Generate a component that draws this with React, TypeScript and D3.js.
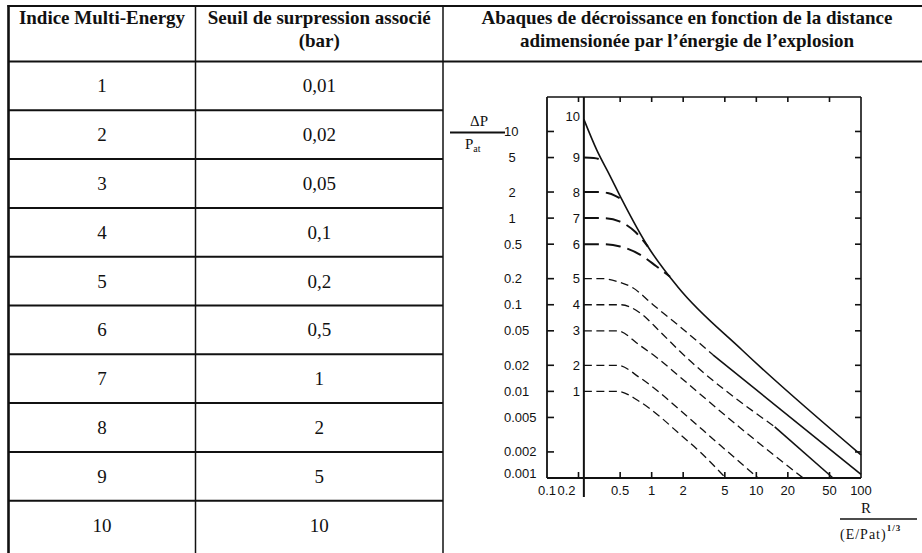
import React from "react";
import * as d3 from "d3";

// ---------- table data ----------
const headerCol1 = ["Indice Multi-Energy"];
const headerCol2 = ["Seuil de surpression associé", "(bar)"];
const headerCol3 = [
  "Abaques de décroissance en fonction de la distance",
  "adimensionée par l’énergie de l’explosion",
];
const indices = ["1", "2", "3", "4", "5", "6", "7", "8", "9", "10"];
const seuils = ["0,01", "0,02", "0,05", "0,1", "0,2", "0,5", "1", "2", "5", "10"];

// ---------- chart data ----------
const xTicks = [0.1, 0.2, 0.5, 1, 2, 5, 10, 20, 50, 100];
const xTickLabels = ["0.1", "0.2", "0.5", "1", "2", "5", "10", "20", "50", "100"];
const yTicks = [10, 5, 2, 1, 0.5, 0.2, 0.1, 0.05, 0.02, 0.01, 0.005, 0.002, 0.001];
const yTickLabels = ["10", "5", "2", "1", "0.5", "0.2", "0.1", "0.05", "0.02", "0.01", "0.005", "0.002", "0.001"];
const chargeRadius = 0.225;
const curveNames = ["1", "2", "3", "4", "5", "6", "7", "8", "9", "10"];

const curve1 = [[0.225, 0.01], [0.47, 0.01], [0.77, 0.0076], [1.2, 0.0051], [1.86, 0.0032], [2.9, 0.002], [5.1, 0.001]];
const curve2 = [[0.225, 0.02], [0.47, 0.02], [0.77, 0.0144], [1.2, 0.0096], [1.86, 0.0061], [4.5, 0.0024], [10.4, 0.001]];
const curve3 = [[0.225, 0.05], [0.47, 0.05], [0.77, 0.034], [1.2, 0.023], [1.86, 0.0147], [7, 0.0038], [28, 0.001]];
const curve4 = [[0.225, 0.1], [0.51, 0.1], [0.77, 0.081], [1.2, 0.049], [1.86, 0.029], [15, 0.0039]];
const curve4Tail = [[15, 0.0039], [54, 0.001]];
const curve5 = [[0.225, 0.2], [0.34, 0.2], [0.48, 0.184], [0.66, 0.157], [1.03, 0.1], [1.86, 0.056], [3.85, 0.0264]];
const curve5Tail = [[3.85, 0.0264], [100, 0.0011]];
const curve6 = [[0.225, 0.5], [0.33, 0.5], [0.5, 0.47], [0.8, 0.37], [1.1, 0.28], [1.5, 0.21]];
const curve7 = [[0.225, 1], [0.35, 1], [0.5, 0.91], [0.7, 0.69], [0.92, 0.47]];
const curve8 = [[0.225, 2], [0.31, 2], [0.38, 1.95], [0.45, 1.81], [0.52, 1.63]];
const curve9 = [[0.225, 5], [0.28, 4.95], [0.32, 4.75], [0.346, 4.47]];
const curve10 = [[0.225, 13.8], [0.3, 6.05], [0.4, 3.08], [0.52, 1.63], [0.92, 0.47], [1.78, 0.16], [7.3, 0.03], [100, 0.00185]];

const shortDashCurves = [curve1, curve2, curve3, curve4, curve5];
const longDashCurves = [curve6, curve7, curve8, curve9];
const solidCurves = [curve10, curve4Tail, curve5Tail];
const allCurves = [curve1, curve2, curve3, curve4, curve5, curve6, curve7, curve8, curve9, curve10];

const INK = "#111";
const SERIF = "'Liberation Serif', 'Times New Roman', serif";
const SANS = "'Liberation Sans', Arial, sans-serif";

export default function App() {
  const W = 922, H = 553;
  // table geometry
  const tTop = 6, tLeft = 8.5, c1 = 195.5, c2 = 443, hdrBottom = 61.5, rowH = 48.8;

  // chart scales
  const x = d3.scaleLog().domain([0.1, 100]).range([547, 861]);
  const y = d3.scaleLog().domain([0.001, 25]).range([478, 97]);
  const [x0, x1] = x.range();
  const [y0, y1] = y.range();
  const line = d3
    .line<number[]>()
    .x((d) => x(d[0]))
    .y((d) => y(d[1]))
    .curve(d3.curveMonotoneX);

  return (
    <svg width={W} height={H} style={{ position: "absolute", left: 0, top: 0, background: "#fff" }}>
      <rect x={0} y={0} width={W} height={H} fill="#fff" />
      {/* ---------- table frame ---------- */}
      <line x1={tLeft - 1} x2={W} y1={tTop} y2={tTop} stroke={INK} strokeWidth={2} />
      <line x1={tLeft} x2={tLeft} y1={tTop - 1} y2={H} stroke={INK} strokeWidth={2.6} />
      <line x1={c1} x2={c1} y1={tTop} y2={H} stroke={INK} strokeWidth={1.5} />
      <line x1={c2} x2={c2} y1={tTop} y2={H} stroke={INK} strokeWidth={1.5} />
      <line x1={tLeft} x2={W} y1={hdrBottom} y2={hdrBottom} stroke={INK} strokeWidth={1.8} />
      {indices.slice(0, 9).map((_, i) => (
        <line key={"rl" + i} x1={tLeft} x2={c2} y1={hdrBottom + rowH * (i + 1)} y2={hdrBottom + rowH * (i + 1)} stroke={INK} strokeWidth={2} />
      ))}

      {/* headers */}
      <g fontFamily={SERIF} fontWeight="bold" fontSize={19} fill={INK} textAnchor="middle">
        {headerCol1.map((t, i) => (
          <text key={"h1" + i} x={(tLeft + c1) / 2} y={24 + 23 * i}>{t}</text>
        ))}
        {headerCol2.map((t, i) => (
          <text key={"h2" + i} x={(c1 + c2) / 2} y={24 + 23 * i}>{t}</text>
        ))}
        {headerCol3.map((t, i) => (
          <text key={"h3" + i} x={687} y={24 + 23 * i}>{t}</text>
        ))}
      </g>

      {/* rows */}
      <g fontFamily={SERIF} fontSize={19} fill={INK} textAnchor="middle">
        {indices.map((t, i) => (
          <text key={"ri" + i} x={(tLeft + c1) / 2} y={hdrBottom + rowH * (i + 0.5) + 6.5}>{t}</text>
        ))}
        {seuils.map((t, i) => (
          <text key={"rs" + i} x={(c1 + c2) / 2} y={hdrBottom + rowH * (i + 0.5) + 6.5}>{t}</text>
        ))}
      </g>

      {/* ---------- chart ---------- */}
      {/* frame */}
      <g stroke={INK} fill="none">
        <line x1={x0} x2={x1} y1={y1} y2={y1} strokeWidth={1.6} />
        <line x1={x0} x2={x1} y1={y0} y2={y0} strokeWidth={1.8} />
        <line x1={x0} x2={x0} y1={y1} y2={y0} strokeWidth={1.8} />
        <line x1={x1} x2={x1} y1={y1} y2={y0} strokeWidth={1.6} />
        <line x1={x(chargeRadius)} x2={x(chargeRadius)} y1={y1} y2={y0 + 19} strokeWidth={2} />
      </g>
      {/* ticks */}
      <g stroke={INK} strokeWidth={1.6}>
        {yTicks.map((v, i) => (
          <line key={"yl" + i} x1={x0} x2={x0 + 7} y1={y(v)} y2={y(v)} />
        ))}
        {yTicks.slice(0, 12).map((v, i) => (
          <line key={"yr" + i} x1={x1} x2={x1 - 6} y1={y(v)} y2={y(v)} />
        ))}
        {xTicks.slice(1, 9).map((v, i) => (
          <line key={"xb" + i} x1={x(v)} x2={x(v)} y1={y0} y2={y0 - 6} />
        ))}
        {xTicks.slice(1, 9).map((v, i) => (
          <line key={"xt" + i} x1={x(v)} x2={x(v)} y1={y1} y2={y1 + 5} />
        ))}
      </g>
      {/* tick labels */}
      <g fontFamily={SANS} fontSize={13} fill={INK}>
        {yTickLabels.map((t, i) => (
          <text
            key={"ylab" + i}
            x={t.length === 1 ? 512 : 504}
            y={y(yTicks[i]) + 4.5 - (i === yTickLabels.length - 1 ? 5 : 0)}
            textAnchor={t.length === 1 ? "middle" : "start"}
          >
            {t}
          </text>
        ))}
        {xTickLabels.map((t, i) => (
          <text key={"xlab" + i} x={x(xTicks[i]) + (i === 1 ? -12 : 0)} y={y0 + 17} textAnchor="middle">
            {t}
          </text>
        ))}
        {allCurves.map((c, i) => (
          <text key={"cl" + i} x={580} y={y(c[0][1]) + 4.5 - (i === 9 ? 3 : 0)} textAnchor="end">
            {curveNames[i]}
          </text>
        ))}
      </g>

      {/* curves */}
      <g fill="none" stroke={INK}>
        {shortDashCurves.map((c, i) => (
          <path key={"sd" + i} d={line(c as any) || ""} strokeWidth={1.3} strokeDasharray="8,4.5" />
        ))}
        {longDashCurves.map((c, i) => (
          <path key={"ld" + i} d={line(c as any) || ""} strokeWidth={2} strokeDasharray="15,7" />
        ))}
        {solidCurves.map((c, i) => (
          <path key={"so" + i} d={line(c as any) || ""} strokeWidth={1.6} />
        ))}
      </g>

      {/* y-axis title ΔP / Pat */}
      <g fontFamily={SERIF} fill={INK}>
        <text x={479} y={126} fontSize={15} textAnchor="middle">ΔP</text>
        <line x1={450} x2={505} y1={132.5} y2={132.5} stroke={INK} strokeWidth={2} />
        <text x={465} y={149} fontSize={15}>
          P<tspan fontSize={10} dy={3}>at</tspan>
        </text>
      </g>
      {/* x-axis title R / (E/Pat)^1/3 */}
      <g fontFamily={SERIF} fill={INK}>
        <text x={866} y={513} fontSize={15} textAnchor="middle">R</text>
        <line x1={840} x2={917} y1={519} y2={519} stroke={INK} strokeWidth={1.3} />
        <text x={840} y={539} fontSize={14} letterSpacing={1}>
          (E/Pat)<tspan fontSize={9} dy={-8} fontWeight="bold">1/3</tspan>
        </text>
      </g>
    </svg>
  );
}
